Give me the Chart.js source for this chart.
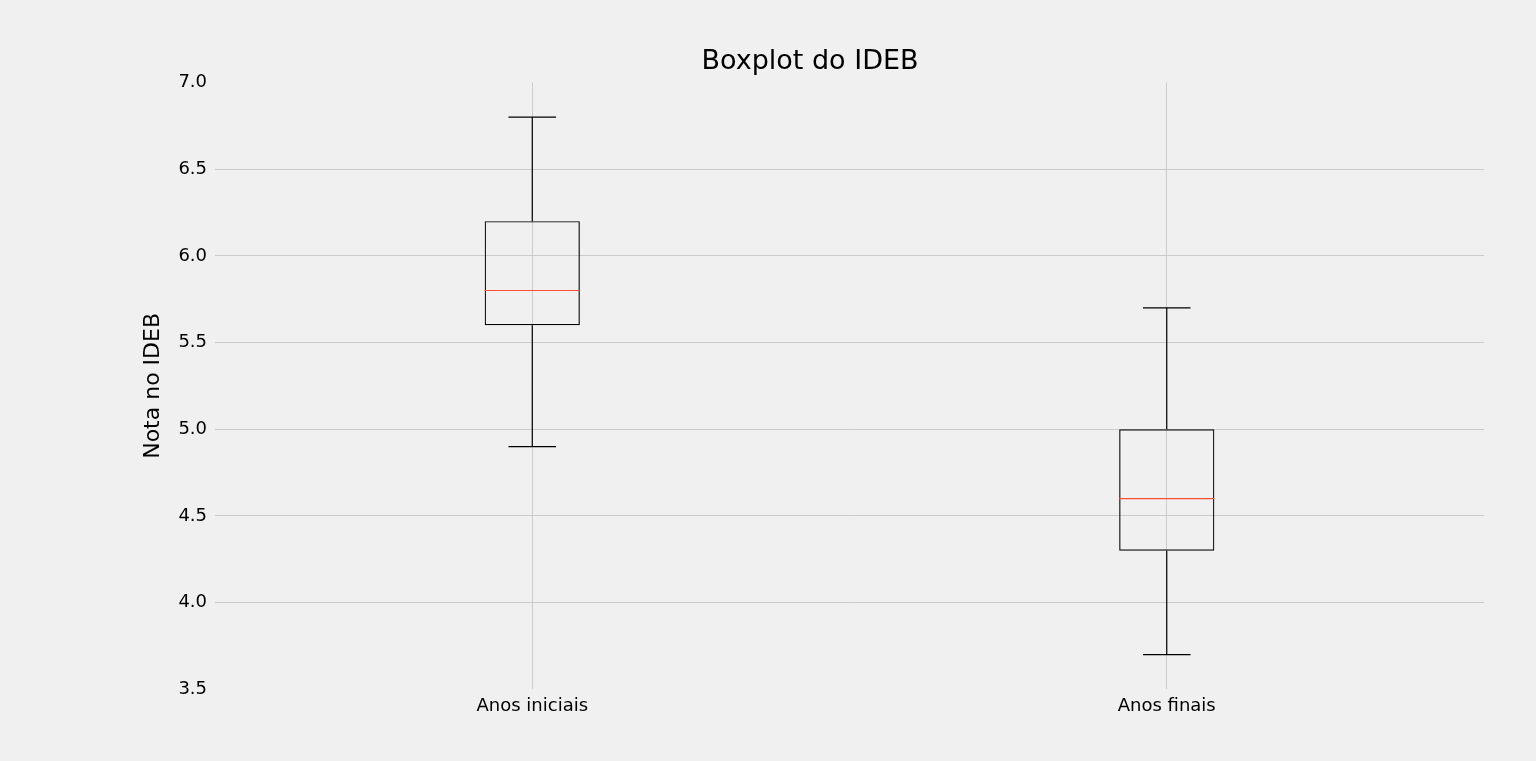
<!DOCTYPE html>
<html>
<head>
<meta charset="utf-8">
<script src="https://cdn.jsdelivr.net/npm/chart.js@4"></script>
<style>
  html, body { margin: 0; padding: 0; background: #f0f0f0; }
  #wrap { width: 1536px; height: 761px; }
</style>
</head>
<body>
<div id="wrap"><canvas id="boxChart"></canvas></div>
<script>
const categories = ["Anos iniciais", "Anos finais"];
const mins = [4.9, 3.7];
const q1s = [5.6, 4.3];
const medians = [5.8, 4.6];
const q3s = [6.2, 5.0];
const maxs = [6.8, 5.7];
const yTicks = [3.5, 4.0, 4.5, 5.0, 5.5, 6.0, 6.5, 7.0];

// whiskers, caps and median drawn with the chart's own scales
const whiskerPlugin = {
  id: "whiskers",
  afterDatasetsDraw(chart) {
    const { ctx, scales: { x, y } } = chart;
    const meta = chart.getDatasetMeta(0);
    ctx.save();
    ctx.lineWidth = 1.2;
    categories.forEach((c, i) => {
      const cx = x.getPixelForValue(i);
      const bw = meta.data[i].width;
      const cap = bw / 4;
      ctx.strokeStyle = "#000";
      ctx.beginPath();
      ctx.moveTo(cx, y.getPixelForValue(q3s[i]));
      ctx.lineTo(cx, y.getPixelForValue(maxs[i]));
      ctx.moveTo(cx, y.getPixelForValue(q1s[i]));
      ctx.lineTo(cx, y.getPixelForValue(mins[i]));
      ctx.moveTo(cx - cap, y.getPixelForValue(maxs[i]));
      ctx.lineTo(cx + cap, y.getPixelForValue(maxs[i]));
      ctx.moveTo(cx - cap, y.getPixelForValue(mins[i]));
      ctx.lineTo(cx + cap, y.getPixelForValue(mins[i]));
      ctx.stroke();
      ctx.strokeStyle = "#fc4f30";
      ctx.beginPath();
      ctx.moveTo(cx - bw / 2, y.getPixelForValue(medians[i]));
      ctx.lineTo(cx + bw / 2, y.getPixelForValue(medians[i]));
      ctx.stroke();
    });
    ctx.restore();
  }
};

new Chart(document.getElementById("boxChart"), {
  type: "bar",
  data: {
    labels: categories,
    datasets: [{
      data: categories.map((c, i) => [q1s[i], q3s[i]]),
      backgroundColor: "rgba(0,0,0,0)",
      borderColor: "#000",
      borderWidth: 1.2,
      borderSkipped: false,
      barPercentage: 0.15,
      categoryPercentage: 1
    }]
  },
  options: {
    responsive: true,
    maintainAspectRatio: false,
    animation: false,
    layout: { padding: { left: 136, right: 52, top: 46, bottom: 38 } },
    plugins: {
      legend: { display: false },
      tooltip: { enabled: false },
      title: {
        display: true,
        text: "Boxplot do IDEB",
        color: "#000",
        font: { family: "DejaVu Sans", size: 27, weight: "normal" },
        padding: { top: 0, bottom: 4 }
      }
    },
    scales: {
      x: {
        offset: true,
        grid: { offset: false, color: "#cbcbcb", drawTicks: false },
        border: { display: false },
        ticks: { color: "#000", font: { family: "DejaVu Sans", size: 18 }, padding: 6 }
      },
      y: {
        min: 3.5,
        max: 7.0,
        afterBuildTicks: (axis) => { axis.ticks = yTicks.map(v => ({ value: v })); },
        grid: {
          color: (c) => (c.tick && (c.tick.value === 3.5 || c.tick.value === 7.0)) ? "rgba(0,0,0,0)" : "#cbcbcb",
          drawTicks: false
        },
        border: { display: false },
        ticks: {
          color: "#000",
          padding: 8,
          font: { family: "DejaVu Sans", size: 18 },
          callback: (v) => Number(v).toFixed(1)
        },
        title: {
          display: true,
          text: "Nota no IDEB",
          color: "#000",
          font: { family: "DejaVu Sans", size: 22 },
          padding: { bottom: 4 }
        }
      }
    }
  },
  plugins: [whiskerPlugin]
});
</script>
</body>
</html>
